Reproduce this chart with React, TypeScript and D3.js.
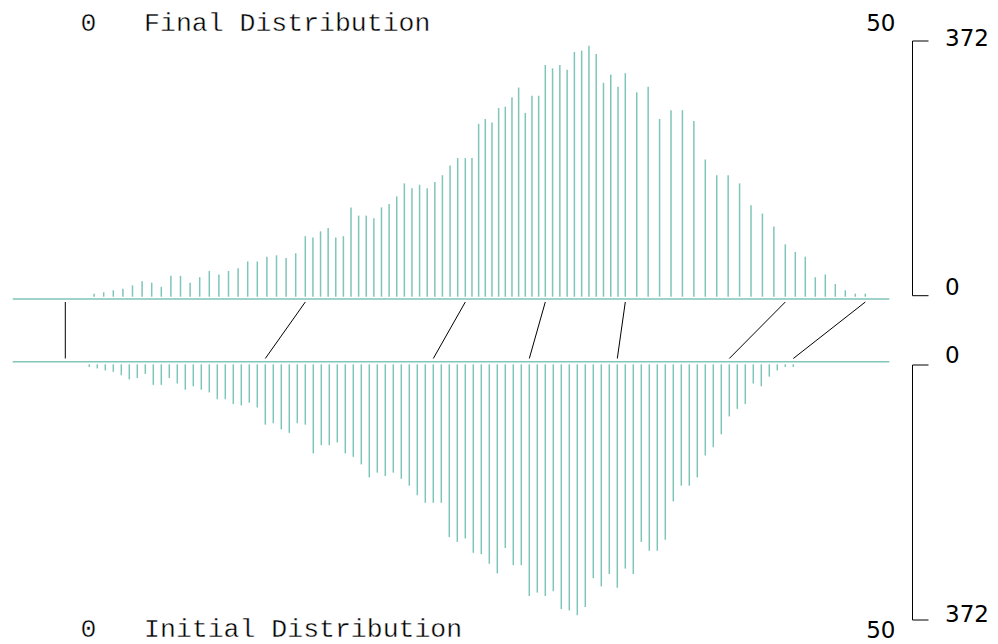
import React from "react";
import * as d3 from "d3";

// counts per bin (bins are 0.5 wide, starting at 0)
const counts = [
  3, 5, 8, 10, 15, 21, 19, 13, 29, 29, 19, 27, 36, 31, 36, 40, 50, 50, 57, 59,
  55, 62, 87, 85, 94, 99, 85, 87, 129, 117, 117, 113, 129, 134, 145, 164, 157,
  162, 157, 166, 176, 190, 201, 201, 201, 251, 258, 253, 274, 276, 290, 304,
  267, 292, 292, 337, 332, 337, 330, 356, 358, 365, 353, 311, 323, 305, 325,
  297, 305, 258, 271, 271, 255, 199, 176, 176, 164, 132, 120, 101, 75, 64, 57,
  27, 31, 17, 8, 3, 3,
];
const binWidth = 0.5;

// piecewise linear transfer: initial value -> final value
const transferFrom = [-1.5, 11, 21.5, 27.5, 33, 40, 44];
const transferTo = [-1.5, 13.5, 23.5, 28.5, 33.5, 43.5, 48.5];

const xDomain = [0, 50];
const countMax = 372;

const BAR = "#7fc5b9";

const titleStyle = {
  fontFamily: "Liberation Mono",
  fontSize: 26.5,
  whiteSpace: "pre" as const,
  stroke: "#fff",
  strokeWidth: 0.4,
  paintOrder: "fill" as const,
};

const App = () => {
  const width = 998;
  const height = 644;

  const x = d3.scaleLinear().domain(xDomain).range([89.3, 889.3]);
  const transfer = d3.scaleLinear().domain(transferFrom).range(transferTo);
  const yTop = d3.scaleLinear().domain([0, countMax]).range([295.7, 41]);
  const yBot = d3.scaleLinear().domain([0, countMax]).range([365, 620]);

  const topBase = 299;
  const botBase = 361.7;
  const lineStart = 12.7;

  const bins = counts.map((c, i) => ({ v: i * binWidth, c }));

  const axisX = 912.5;
  const tickEnd = 928.5;

  return (
    <svg
      width={width}
      height={height}
      style={{ position: "absolute", left: 0, top: 0, background: "#fff" }}
    >
      {/* titles */}
      <text x={80.5} y={30.7} style={titleStyle} xmlSpace="preserve">
        {"0   Final Distribution"}
      </text>
      <text x={80.5} y={636.5} style={titleStyle} xmlSpace="preserve">
        {"0   Initial Distribution"}
      </text>
      <text x={x(50) - 8.5} y={30.7} fontFamily="DejaVu Sans" fontSize={23} textAnchor="middle">
        50
      </text>
      <text x={x(50) - 8.5} y={637.5} fontFamily="DejaVu Sans" fontSize={23} textAnchor="middle">
        50
      </text>

      {/* baselines */}
      <line x1={lineStart} x2={x(50)} y1={topBase} y2={topBase} stroke={BAR} strokeWidth={1.6} />
      <line x1={lineStart} x2={x(50)} y1={botBase} y2={botBase} stroke={BAR} strokeWidth={1.6} />

      {/* final distribution */}
      {bins.map((d, i) => (
        <line
          key={"t" + i}
          x1={x(transfer(d.v))}
          x2={x(transfer(d.v))}
          y1={yTop(0) + 1}
          y2={yTop(d.c)}
          stroke={BAR}
          strokeWidth={1.5}
        />
      ))}

      {/* initial distribution */}
      {bins.map((d, i) => (
        <line
          key={"b" + i}
          x1={x(d.v)}
          x2={x(d.v)}
          y1={yBot(0) - 0.7}
          y2={yBot(d.c)}
          stroke={BAR}
          strokeWidth={1.5}
        />
      ))}

      {/* transfer lines */}
      {transferFrom.map((v, i) => (
        <line
          key={"m" + i}
          x1={x(v)}
          x2={x(transferTo[i])}
          y1={botBase - 3.2}
          y2={topBase + 3}
          stroke="#000"
          strokeWidth={1}
        />
      ))}

      {/* count axes */}
      <path
        d={`M${tickEnd},${yTop(countMax)}H${axisX}V${yTop(0)}H${tickEnd}`}
        fill="none"
        stroke="#000"
        strokeWidth={1}
      />
      <path
        d={`M${tickEnd},${yBot(0)}H${axisX}V${yBot(countMax)}H${tickEnd}`}
        fill="none"
        stroke="#000"
        strokeWidth={1}
      />
      <text x={945} y={yTop(countMax) + 5} fontFamily="DejaVu Sans" fontSize={23}>
        {countMax}
      </text>
      <text x={945} y={yTop(0) - 0.4} fontFamily="DejaVu Sans" fontSize={23}>
        0
      </text>
      <text x={945} y={yBot(0) - 2.3} fontFamily="DejaVu Sans" fontSize={23}>
        0
      </text>
      <text x={945} y={yBot(countMax) + 1.7} fontFamily="DejaVu Sans" fontSize={23}>
        {countMax}
      </text>
    </svg>
  );
};

export default App;
